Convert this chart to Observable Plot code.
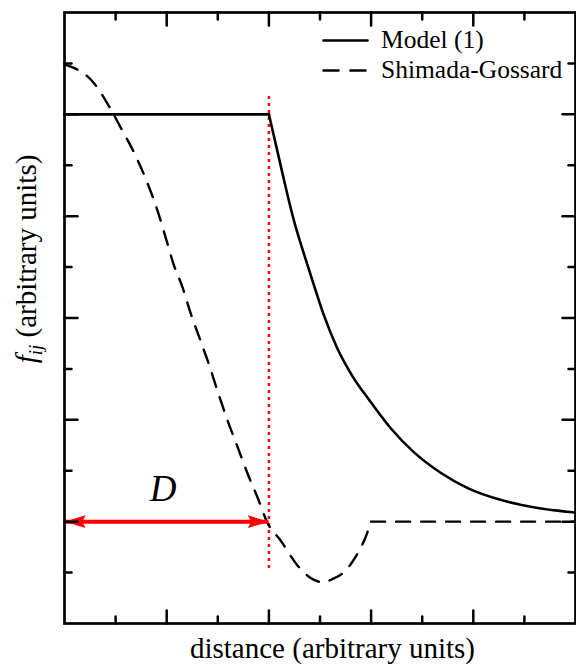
<!DOCTYPE html>
<html><head><meta charset="utf-8">
<script src="https://cdn.jsdelivr.net/npm/d3@7"></script>
<script src="https://cdn.jsdelivr.net/npm/@observablehq/plot@0.6"></script>
<style>
body{margin:0;background:#fff}
#chart{position:relative;width:576px;height:670px}
.lbl{position:absolute;line-height:0;white-space:nowrap;font-family:"Liberation Serif";color:#000;pointer-events:none}
</style>
</head><body><div id="chart"></div>
<script>
// ---- data ----
const modelFlatX = [0, 4];
const modelFlatY = [10, 10];
const modelDecayX = [4.0, 4.27, 4.48, 4.72, 4.87, 5.07, 5.34, 5.64, 5.97, 6.38, 6.83, 7.36, 7.89, 8.53, 9.26, 10];
const modelDecayY = [10.0, 8.82, 7.95, 7.15, 6.68, 6.07, 5.40, 4.85, 4.38, 3.84, 3.37, 2.96, 2.66, 2.43, 2.27, 2.18];
const sgCurveX = [0, 0.57, 0.90, 1.10, 1.39, 1.62, 1.82, 1.98, 2.13, 2.31, 2.47, 2.66, 2.82, 3.01, 3.19, 3.39, 3.58, 3.78, 3.97, 4.23, 4.56, 4.81, 5.05, 5.26, 5.46, 5.69, 5.89, 6.0];
const sgCurveY = [10.98, 10.62, 10.11, 9.74, 9.19, 8.66, 8.11, 7.58, 7.07, 6.60, 6.09, 5.56, 5.11, 4.52, 3.99, 3.46, 2.95, 2.47, 1.98, 1.63, 1.14, 0.90, 0.81, 0.88, 1.00, 1.30, 1.69, 2.0];
const sgFlatX = [6.0, 10];
const sgFlatY = [2.0, 2.0];
const xMajor = [2, 4, 6, 8];
const xMinor = [1, 3, 5, 7, 9];
const yMajor = [2, 4, 6, 8, 10];
const yMinor = [1, 3, 5, 7, 9, 11];
const legendLabels = ["Model (1)", "Shimada-Gossard"];
const xLabel = "distance (arbitrary units)";
const yLabelMain = "f", yLabelSub = "ij", yLabelRest = " (arbitrary units)";
const spanD = [0, 4];
const spanLevel = 2;
const spanLabel = "D";
const markerX = 4;
const markerY = [1.08, 10.4];

// ---- layout ----
const W = 576, H = 670, ML = 64, MR = 1, MT = 12, MB = 47;
const xDomain = [0, 10], yDomain = [0, 12];

// ---- build ----
const pts = (xs, ys, part) => xs.map((x, i) => ({x, y: ys[i], part}));
const model = [...pts(modelFlatX, modelFlatY, "a"), ...pts(modelDecayX, modelDecayY, "b")];
const sg = [...pts(sgCurveX, sgCurveY, "a"), ...pts(sgFlatX, sgFlatY, "b")];

const tickShape = {draw(ctx, l) { ctx.moveTo(0, 0); ctx.lineTo(0, -l); }};
const headSymbol = {draw(ctx, size) {
  const r = Math.sqrt(size / Math.PI);
  ctx.moveTo(0, 0);
  ctx.lineTo(-2 * r, -0.6 * r);
  ctx.lineTo(-1.7 * r, 0);
  ctx.lineTo(-2 * r, 0.6 * r);
  ctx.closePath();
}};

function ticks(values, axis, anchor, rotate, len) {
  const ch = axis === "x" ? {x: d => d} : {y: d => d};
  return Plot.vector(values, {...ch, frameAnchor: anchor, rotate, length: len, anchor: "start",
    shape: tickShape, stroke: "black", strokeWidth: 2.5});
}

const legendSamples = legendLabels.map((label, i) =>
  Plot.vector([label], {frameAnchor: "top-right", dx: -252, dy: 28 + 30 * i, rotate: 90, length: 44,
    anchor: "start", shape: tickShape, stroke: "black", strokeWidth: 2.6,
    strokeDasharray: i === 0 ? null : "15,12"}));

const chart = Plot.plot({
  width: W, height: H,
  marginLeft: ML, marginRight: MR, marginTop: MT, marginBottom: MB,
  x: {domain: xDomain, axis: null},
  y: {domain: yDomain, axis: null},
  style: {background: "#fff", color: "black"},
  marks: [
    Plot.ruleX([markerX], {y1: markerY[0], y2: markerY[1], stroke: "#ff0000", strokeWidth: 2.5, strokeDasharray: "3,4"}),
    Plot.line(model, {x: "x", y: "y", z: "part", curve: "monotone-x", stroke: "black", strokeWidth: 2.6}),
    Plot.line(sg, {x: "x", y: "y", z: "part", curve: "monotone-x", stroke: "black", strokeWidth: 2.4, strokeDasharray: "14,11"}),
    Plot.ruleY([spanLevel], {x1: spanD[0], x2: spanD[1], stroke: "#ff0000", strokeWidth: 4}),
    Plot.dot([spanD[1]], {x: d => d, y: spanLevel, symbol: headSymbol, r: 10.5, rotate: 0, fill: "#ff0000", stroke: null}),
    Plot.dot([spanD[0]], {x: d => d, y: spanLevel, symbol: headSymbol, r: 10.5, rotate: 180, fill: "#ff0000", stroke: null}),
    ticks(yMajor, "y", "left", 90, 13), ticks(yMinor, "y", "left", 90, 7),
    ticks(yMajor, "y", "right", -90, 13), ticks(yMinor, "y", "right", -90, 7),
    ticks(xMajor, "x", "bottom", 0, 13), ticks(xMinor, "x", "bottom", 0, 7),
    ticks(xMajor, "x", "top", 180, 13), ticks(xMinor, "x", "top", 180, 7),
    Plot.frame({stroke: "black", strokeWidth: 2.7}),
    ...legendSamples
  ]
});

const host = document.getElementById("chart");
host.append(chart);

// ---- text layer (HTML, same pixel frame as the plot) ----
const sx = d3.scaleLinear(xDomain, [ML, W - MR]);
const sy = d3.scaleLinear(yDomain, [H - MB, MT]);
const ASC = 0.3375; // baseline offset below the line-height:0 box top, in em
function label(text, x, baseline, size, {anchor = "start", italic = false} = {}) {
  const el = document.createElement("div");
  el.className = "lbl";
  el.textContent = text;
  el.style.fontSize = size + "px";
  el.style.left = x + "px";
  el.style.top = (baseline - ASC * size) + "px";
  if (italic) el.style.fontStyle = "italic";
  if (anchor === "middle") el.style.transform = "translateX(-50%)";
  host.append(el);
  return el;
}

legendLabels.forEach((l, i) => label(l, W - MR - 194, MT + 37 + 30 * i, 25.5));
label(xLabel, (ML + W - MR) / 2 + 13, H - 12, 29, {anchor: "middle"});
label(spanLabel, sx((spanD[0] + spanD[1]) / 2) - 3, sy(spanLevel) - 20, 37, {anchor: "middle", italic: true});

const yl = document.createElement("div");
yl.className = "lbl";
yl.style.fontSize = "29px";
yl.style.left = (36 - ASC * 29) + "px";
yl.style.top = "259px";
yl.style.transformOrigin = "0 0";
yl.style.transform = "rotate(-90deg) translateX(-50%)";
const f = document.createElement("i"); f.textContent = yLabelMain;
const sub = document.createElement("i"); sub.textContent = yLabelSub;
sub.style.fontSize = "19px"; sub.style.verticalAlign = "-6px";
yl.append(f, sub, document.createTextNode(yLabelRest));
host.append(yl);
</script>
</body></html>
